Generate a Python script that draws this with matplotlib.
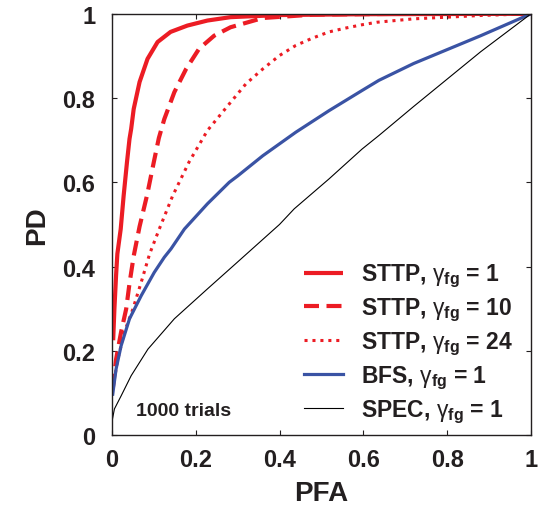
import matplotlib
matplotlib.use("Agg")
import matplotlib.pyplot as plt

plt.rcParams['font.family'] = ['Liberation Sans', 'DejaVu Sans']
plt.rcParams['mathtext.fontset'] = 'custom'
plt.rcParams['mathtext.rm'] = 'Liberation Sans'
plt.rcParams['mathtext.bf'] = 'Liberation Sans:bold'
plt.rcParams['mathtext.it'] = 'Liberation Sans:italic'

# STTP, gamma=1
sttp1_pfa = [0.003, 0.006, 0.010, 0.013, 0.021, 0.028, 0.036, 0.042, 0.046, 0.052, 0.066, 0.085,
             0.109, 0.140, 0.180, 0.228, 0.283, 0.40, 0.60, 1.0]
sttp1_pd = [0.225, 0.30, 0.38, 0.43, 0.489, 0.568, 0.648, 0.703, 0.727, 0.774, 0.838, 0.893,
            0.933, 0.957, 0.972, 0.984, 0.992, 0.997, 0.999, 1.0]
# STTP, gamma=10
sttp10_pfa = [0.002, 0.010, 0.022, 0.034, 0.042, 0.052, 0.066, 0.084, 0.100, 0.112, 0.125, 0.149,
              0.177, 0.208, 0.244, 0.283, 0.36, 0.48, 0.70, 1.0]
sttp10_pd = [0.11, 0.18, 0.245, 0.299, 0.36, 0.425, 0.495, 0.57, 0.648, 0.705, 0.75, 0.814,
             0.869, 0.917, 0.948, 0.968, 0.99, 0.998, 1.0, 1.0]
# STTP, gamma=24
sttp24_pfa = [0.002, 0.014, 0.030, 0.050, 0.070, 0.090, 0.113, 0.145, 0.184, 0.228, 0.28, 0.32,
              0.36, 0.40, 0.439, 0.478, 0.518, 0.557, 0.597, 0.633, 0.72, 0.88, 1.0]
sttp24_pd = [0.11, 0.18, 0.245, 0.299, 0.363, 0.43, 0.489, 0.568, 0.648, 0.723, 0.786, 0.834,
             0.869, 0.901, 0.925, 0.942, 0.957, 0.966, 0.974, 0.980, 0.988, 0.996, 1.0]
# BFS, gamma=1
bfs_pfa = [0.002, 0.010, 0.022, 0.042, 0.070, 0.101, 0.125, 0.141, 0.173, 0.228, 0.28, 0.30,
           0.36, 0.439, 0.518, 0.597, 0.637, 0.72, 0.88, 1.0]
bfs_pd = [0.097, 0.157, 0.212, 0.276, 0.331, 0.386, 0.422, 0.442, 0.489, 0.549, 0.60, 0.615,
          0.663, 0.719, 0.770, 0.818, 0.842, 0.882, 0.948, 1.0]
# SPEC, gamma=1
spec_pfa = [0.0, 0.006, 0.022, 0.046, 0.086, 0.149, 0.228, 0.299, 0.40, 0.435, 0.518, 0.597,
            0.637, 0.72, 0.88, 1.0]
spec_pd = [0.031, 0.062, 0.093, 0.141, 0.204, 0.276, 0.347, 0.41, 0.50, 0.537, 0.608, 0.679,
           0.711, 0.78, 0.91, 1.0]

ticks = [0, 0.2, 0.4, 0.6, 0.8, 1]
tick_labels = ['0', '0.2', '0.4', '0.6', '0.8', '1']

red = '#ec1c24'
blue = '#3a53a4'
ink = '#231f20'

fig = plt.figure(figsize=(5.38, 5.10), dpi=100)
ax = fig.add_axes([0.208, 0.145, 0.779, 0.826])

ax.plot(sttp1_pfa, sttp1_pd, color=red, lw=3.0, solid_capstyle='butt',
        label=r'STTP, $\mathrm{\gamma}_{\mathbf{fg}}$ = 1')
ax.plot(sttp10_pfa, sttp10_pd, color=red, lw=3.0, linestyle=(0, (3.6, 1.8)),
        label=r'STTP, $\mathrm{\gamma}_{\mathbf{fg}}$ = 10')
ax.plot(sttp24_pfa, sttp24_pd, color=red, lw=2.2, linestyle=(0, (1.0, 1.6)),
        label=r'STTP, $\mathrm{\gamma}_{\mathbf{fg}}$ = 24')
ax.plot(bfs_pfa, bfs_pd, color=blue, lw=2.3,
        label=r'BFS, $\mathrm{\gamma}_{\mathbf{fg}}$ = 1')
ax.plot(spec_pfa, spec_pd, color='black', lw=0.8,
        label=r'SPEC, $\mathrm{\gamma}_{\mathbf{fg}}$ = 1')

ax.set_xlim(0, 1)
ax.set_ylim(0, 1)
ax.set_xticks(ticks)
ax.set_xticklabels(tick_labels)
ax.set_yticks(ticks)
ax.set_yticklabels(tick_labels)
ax.tick_params(direction='in', top=True, right=True, length=3.5, width=0.8,
               labelsize=17, colors=ink)
ax.tick_params(axis='x', pad=9)
ax.tick_params(axis='y', pad=12)
for lab in ax.get_xticklabels() + ax.get_yticklabels():
    lab.set_fontweight('bold')
for s in ax.spines.values():
    s.set_linewidth(1.0)
    s.set_color(ink)

ax.set_xlabel('PFA', fontsize=20, fontweight='bold', color=ink, labelpad=7)
ax.set_ylabel('PD', fontsize=20, fontweight='bold', color=ink, labelpad=9)

leg = ax.legend(loc='lower right', bbox_to_anchor=(0.982, 0.0), frameon=False,
                handlelength=1.7, handletextpad=0.8, labelspacing=0.28,
                borderaxespad=0.1, borderpad=0.35,
                prop={'weight': 'bold', 'size': 16.5})
for t in leg.get_texts():
    t.set_color(ink)

ax.text(0.057, 0.059, '1000 trials', transform=ax.transAxes, fontsize=14,
        fontweight='bold', color=ink, va='center')

fig.savefig('out.png', dpi=100)
